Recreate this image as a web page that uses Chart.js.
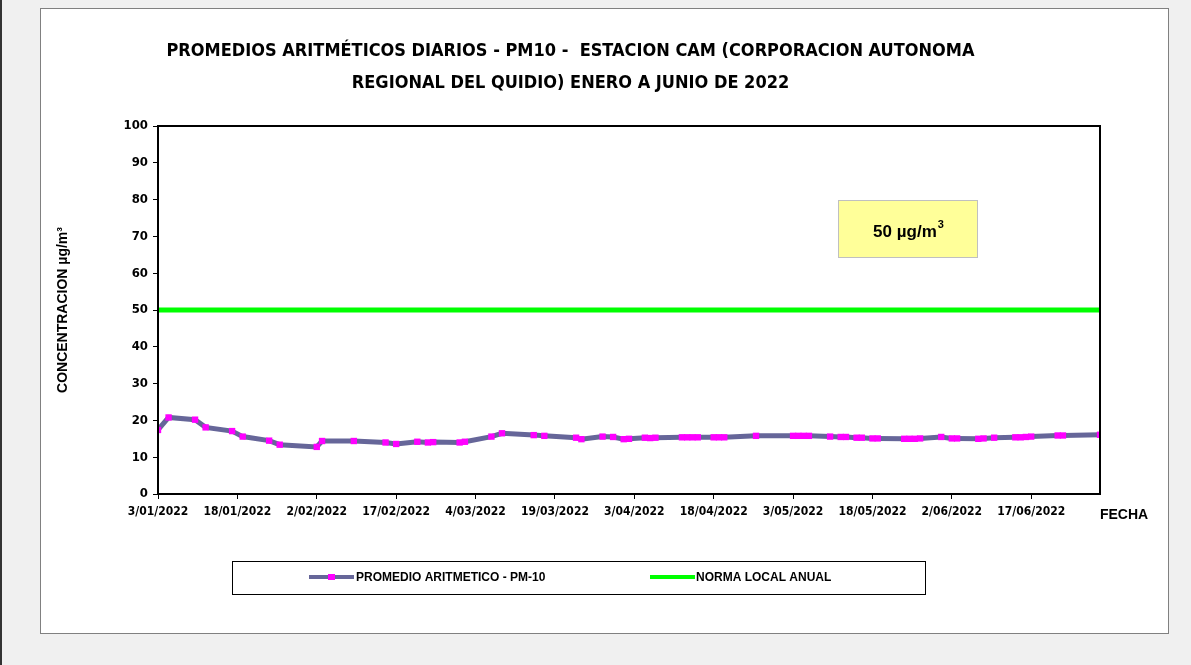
<!DOCTYPE html>
<html>
<head>
<meta charset="utf-8">
<script src="https://cdn.jsdelivr.net/npm/chart.js@4.4.1/dist/chart.umd.min.js"></script>
<style>
  body { margin:0; background:#f0f0f0; width:1191px; height:665px; overflow:hidden; }
  #linea { position:absolute; left:0; top:0; width:2px; height:665px; background:#333; }
  #marco { position:absolute; left:40px; top:8px; width:1127px; height:624px; border:1px solid #808080; background:#fff; }
</style>
</head>
<body>
<div id="linea"></div>
<div id="marco"><canvas id="grafico" width="1127" height="624"></canvas></div>
<script>
/* datos */
const fechas = ['3/01/2022','5/01/2022','10/01/2022','12/01/2022','17/01/2022','19/01/2022','24/01/2022','26/01/2022',
  '2/02/2022','3/02/2022','9/02/2022','15/02/2022','17/02/2022','21/02/2022','23/02/2022','24/02/2022',
  '1/03/2022','2/03/2022','7/03/2022','9/03/2022','15/03/2022','17/03/2022','23/03/2022','24/03/2022','28/03/2022','30/03/2022',
  '1/04/2022','2/04/2022','5/04/2022','6/04/2022','7/04/2022','12/04/2022','13/04/2022','14/04/2022','15/04/2022',
  '18/04/2022','19/04/2022','20/04/2022','26/04/2022',
  '3/05/2022','4/05/2022','5/05/2022','6/05/2022','10/05/2022','12/05/2022','13/05/2022','15/05/2022','16/05/2022',
  '18/05/2022','19/05/2022','24/05/2022','25/05/2022','26/05/2022','27/05/2022','31/05/2022',
  '2/06/2022','3/06/2022','7/06/2022','8/06/2022','10/06/2022','14/06/2022','15/06/2022','16/06/2022','17/06/2022',
  '22/06/2022','23/06/2022','30/06/2022'];
const pm10 = [17.4,20.8,20.2,18.1,17.1,15.6,14.5,13.4,
  12.8,14.4,14.4,14.0,13.6,14.2,14.0,14.1,
  14.0,14.2,15.6,16.5,16.0,15.8,15.3,14.9,15.6,15.5,
  14.9,15.0,15.3,15.2,15.3,15.4,15.4,15.4,15.4,
  15.4,15.4,15.4,15.8,
  15.8,15.8,15.8,15.8,15.6,15.5,15.5,15.3,15.3,
  15.1,15.1,15.0,15.0,15.0,15.1,15.5,
  15.1,15.1,15.0,15.1,15.3,15.4,15.4,15.5,15.6,
  15.9,15.9,16.1];
const normaLocal = 50;
const inicioEje = '3/01/2022';
const finEje = '30/06/2022';
const pasoDias = 15;
const ejeYMin = 0, ejeYMax = 100, ejeYPaso = 10;

const fuenteAngosta = "'Liberation Sans Narrow', 'DejaVu Sans Condensed', 'Liberation Sans', sans-serif";
const fuente = "'Liberation Sans', Arial, sans-serif";

function aDias(f){
  const p = f.split('/');
  const t = Date.UTC(+p[2], +p[1]-1, +p[0]);
  const q = inicioEje.split('/');
  return Math.round((t - Date.UTC(+q[2], +q[1]-1, +q[0]))/86400000);
}
function aFecha(d){
  const q = inicioEje.split('/');
  const f = new Date(Date.UTC(+q[2], +q[1]-1, +q[0]+d));
  const m = String(f.getUTCMonth()+1).padStart(2,'0');
  return f.getUTCDate()+'/'+m+'/'+f.getUTCFullYear();
}

const diaFin = aDias(finEje);

/* marco del area, titulo FECHA, recuadro y leyenda */
const extras = {
  id:'extras',
  afterDraw(chart){
    const c = chart.ctx, a = chart.chartArea;
    c.save();
    c.strokeStyle = '#000'; c.lineWidth = 2;
    c.strokeRect(a.left, a.top, a.right-a.left, a.bottom-a.top);

    c.fillStyle = '#000';
    c.font = "bold 14px " + fuente;
    c.textAlign = 'center'; c.textBaseline = 'middle';
    c.fillText('FECHA', 1083, 506);

    // recuadro 50 ug/m3
    c.fillStyle = '#ffff99';
    c.fillRect(797, 191, 139, 57);
    c.strokeStyle = '#c0c0c0'; c.lineWidth = 1;
    c.strokeRect(797.5, 191.5, 139, 57);
    c.fillStyle = '#000';
    c.font = "bold 17px " + fuente;
    c.textAlign = 'left';
    const t1 = normaLocal + ' \u00b5g/m';
    const w1 = c.measureText(t1).width;
    c.font = "bold 11px " + fuente;
    const w2 = c.measureText('3').width;
    const x0 = 867 - (w1+w2)/2;
    c.font = "bold 17px " + fuente;
    c.fillText(t1, x0, 223);
    c.font = "bold 11px " + fuente;
    c.fillText('3', x0+w1+1, 216);

    // leyenda
    c.strokeStyle = '#000'; c.lineWidth = 1;
    c.strokeRect(191.5, 552.5, 693, 33);
    const ds = chart.data.datasets;
    c.lineWidth = 4;
    c.strokeStyle = ds[0].borderColor;
    c.beginPath(); c.moveTo(268, 568); c.lineTo(313, 568); c.stroke();
    c.fillStyle = ds[0].pointBackgroundColor;
    c.fillRect(287, 565, 7, 6);
    c.strokeStyle = ds[1].borderColor;
    c.beginPath(); c.moveTo(609, 568); c.lineTo(654, 568); c.stroke();
    c.fillStyle = '#000';
    c.font = "bold 12px " + fuente;
    c.textBaseline = 'middle';
    c.fillText(ds[0].label, 315, 569);
    c.fillText(ds[1].label, 655, 569);
    c.restore();
  }
};

new Chart(document.getElementById('grafico').getContext('2d'), {
  type:'line',
  data:{
    datasets:[
      {
        label:'PROMEDIO ARITMETICO - PM-10',
        data: fechas.map((f,i)=>({x:aDias(f), y:pm10[i]})),
        borderColor:'#666699',
        borderWidth:5,
        pointStyle:'rect',
        pointRadius:4.5,
        pointBackgroundColor:'#ff00ff',
        pointBorderWidth:0,
        tension:0
      },
      {
        label:'NORMA LOCAL ANUAL',
        data:[{x:0, y:normaLocal},{x:diaFin, y:normaLocal}],
        borderColor:'#00ff00',
        borderWidth:5,
        pointRadius:0
      }
    ]
  },
  options:{
    responsive:false,
    animation:false,
    layout:{ padding:{ left:0, right:68, top:0, bottom:0 } },
    plugins:{
      legend:{ display:false },
      tooltip:{ enabled:false },
      title:{
        display:true,
        text:['PROMEDIOS ARITMÉTICOS DIARIOS - PM10 -  ESTACION CAM (CORPORACION AUTONOMA','REGIONAL DEL QUIDIO) ENERO A JUNIO DE 2022'],
        color:'#000',
        font:{ family:fuenteAngosta, size:18, weight:'bold', lineHeight:1.75 },
        padding:{ top:27, bottom:27 }
      }
    },
    scales:{
      x:{
        type:'linear',
        min:0, max:diaFin,
        afterFit(s){ s.height = 139; },
        grid:{ display:true, drawOnChartArea:false, drawTicks:true, tickLength:5, color:'#000' },
        border:{ display:true, color:'#000', width:2 },
        ticks:{
          stepSize:pasoDias, includeBounds:false, autoSkip:false, maxRotation:0,
          color:'#000', padding:6,
          font:{ family:fuenteAngosta, size:12, weight:'bold' },
          callback:(v)=>aFecha(v)
        }
      },
      y:{
        min:ejeYMin, max:ejeYMax,
        afterFit(s){ s.width = 117; },
        grid:{ display:true, drawOnChartArea:false, drawTicks:true, tickLength:5, color:'#000' },
        border:{ display:true, color:'#000', width:2 },
        ticks:{ stepSize:ejeYPaso, color:'#000', padding:5, font:{ family:fuenteAngosta, size:13, weight:'bold' } },
        title:{
          display:true,
          text:'CONCENTRACION \u00b5g/m\u00b3',
          color:'#000',
          font:{ family:fuente, size:14, weight:'bold' },
          padding:{ top:14, bottom:0 }
        }
      }
    }
  },
  plugins:[extras]
});
</script>
</body>
</html>
